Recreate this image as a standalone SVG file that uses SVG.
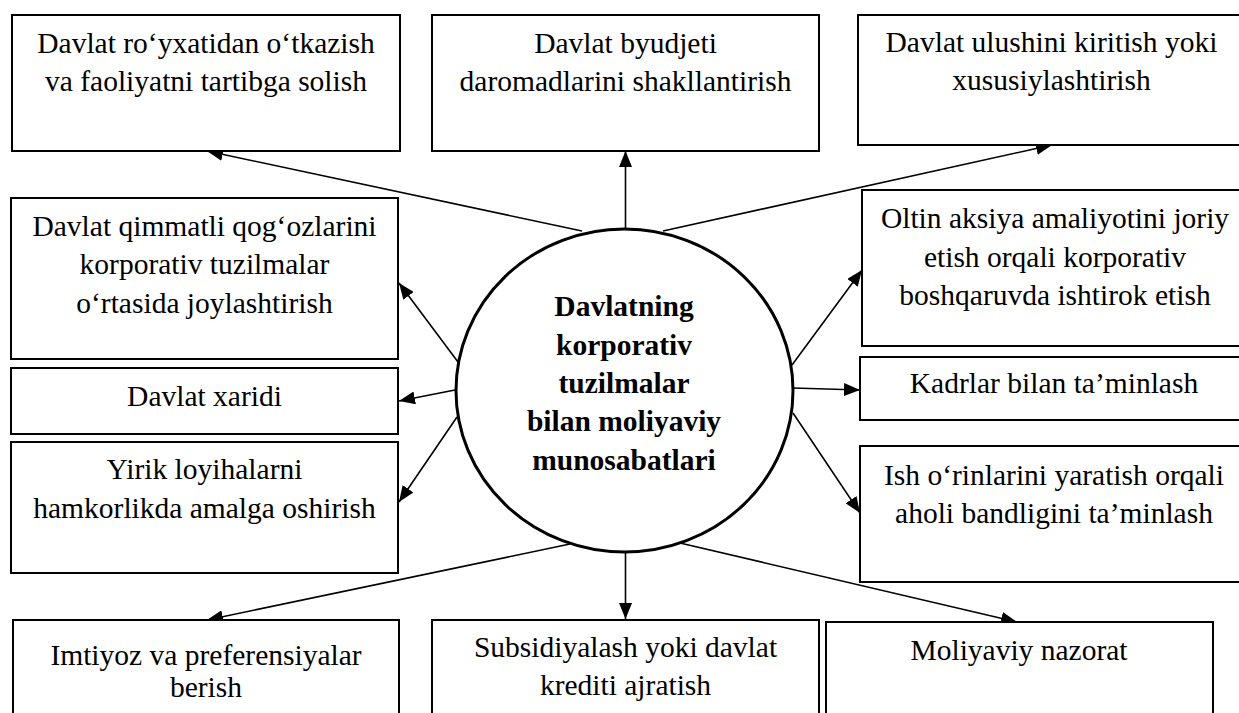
<svg xmlns="http://www.w3.org/2000/svg" width="1239" height="713" viewBox="0 0 1239 713">
  <style>
    .box { fill: #ffffff; stroke: #000000; stroke-width: 2; }
    .hub { fill: #ffffff; stroke: #000000; stroke-width: 3; }
    .lbl { font-family: "Liberation Serif", "Times New Roman", serif; font-size: 29.5px; fill: #000000; text-anchor: middle; }
    .hubtxt { font-weight: bold; }
    .link { stroke: #000000; stroke-width: 1.6; fill: none; marker-end: url(#arrow); }
  </style>
  <defs>
    <marker id="arrow" markerUnits="userSpaceOnUse" markerWidth="17" markerHeight="13" refX="16" refY="6.5" orient="auto">
      <path d="M0,0 L16,6.5 L0,13 Z" fill="#000000"/>
    </marker>
  </defs>
  <rect width="1239" height="713" fill="#ffffff"/>

  <!-- connectors radiating from the central ellipse -->
  <g id="connectors">
    <line class="link" x1="582" y1="231" x2="207" y2="151"/>
    <line class="link" x1="625.5" y1="229" x2="625.5" y2="151"/>
    <line class="link" x1="663" y1="231" x2="1052" y2="145"/>
    <line class="link" x1="458" y1="362" x2="399" y2="283"/>
    <line class="link" x1="455" y1="390" x2="399" y2="401"/>
    <line class="link" x1="457" y1="417" x2="399" y2="502"/>
    <line class="link" x1="792" y1="365" x2="862" y2="270"/>
    <line class="link" x1="793" y1="388" x2="860" y2="390"/>
    <line class="link" x1="793" y1="413" x2="860" y2="513"/>
    <line class="link" x1="570" y1="544" x2="207" y2="620"/>
    <line class="link" x1="625.5" y1="552" x2="625.5" y2="619"/>
    <line class="link" x1="680" y1="543" x2="1017" y2="622"/>
  </g>

  <g id="hub">
    <ellipse class="hub" cx="624.5" cy="390.5" rx="168.5" ry="161.5"/>
    <text class="lbl hubtxt" x="624" y="316">Davlatning</text>
    <text class="lbl hubtxt" x="624" y="354.5">korporativ</text>
    <text class="lbl hubtxt" x="624" y="393">tuzilmalar</text>
    <text class="lbl hubtxt" x="624" y="431">bilan moliyaviy</text>
    <text class="lbl hubtxt" x="624" y="469.5">munosabatlari</text>
  </g>

  <g id="registration">
    <rect class="box" x="12" y="15" width="388" height="136"/>
    <text class="lbl" x="206" y="53">Davlat ro‘yxatidan o‘tkazish</text>
    <text class="lbl" x="206" y="91">va faoliyatni tartibga solish</text>
  </g>

  <g id="budget">
    <rect class="box" x="432" y="15" width="387" height="136"/>
    <text class="lbl" x="625.5" y="53">Davlat byudjeti</text>
    <text class="lbl" x="625.5" y="91">daromadlarini shakllantirish</text>
  </g>

  <g id="state-share">
    <rect class="box" x="858" y="15" width="400" height="130"/>
    <text class="lbl" x="1051.5" y="52">Davlat ulushini kiritish yoki</text>
    <text class="lbl" x="1051.5" y="90">xususiylashtirish</text>
  </g>

  <g id="securities">
    <rect class="box" x="11" y="198" width="387" height="161"/>
    <text class="lbl" x="204.5" y="235.5">Davlat qimmatli qog‘ozlarini</text>
    <text class="lbl" x="204.5" y="274">korporativ tuzilmalar</text>
    <text class="lbl" x="204.5" y="312.5">o‘rtasida joylashtirish</text>
  </g>

  <g id="procurement">
    <rect class="box" x="11" y="368" width="387" height="66"/>
    <text class="lbl" x="204.5" y="406">Davlat xaridi</text>
  </g>

  <g id="joint-projects">
    <rect class="box" x="11" y="442" width="387" height="131"/>
    <text class="lbl" x="204.5" y="479">Yirik loyihalarni</text>
    <text class="lbl" x="204.5" y="517.5">hamkorlikda amalga oshirish</text>
  </g>

  <g id="golden-share">
    <rect class="box" x="862" y="190" width="400" height="156"/>
    <text class="lbl" x="1055" y="228">Oltin aksiya amaliyotini joriy</text>
    <text class="lbl" x="1055" y="266.5">etish orqali korporativ</text>
    <text class="lbl" x="1055" y="305">boshqaruvda ishtirok etish</text>
  </g>

  <g id="staffing">
    <rect class="box" x="860" y="357" width="400" height="63"/>
    <text class="lbl" x="1054" y="393">Kadrlar bilan ta’minlash</text>
  </g>

  <g id="employment">
    <rect class="box" x="860" y="446" width="400" height="136"/>
    <text class="lbl" x="1054" y="484.5">Ish o‘rinlarini yaratish orqali</text>
    <text class="lbl" x="1054" y="523">aholi bandligini ta’minlash</text>
  </g>

  <g id="benefits">
    <rect class="box" x="13" y="620" width="386" height="120"/>
    <text class="lbl" x="206" y="665">Imtiyoz va preferensiyalar</text>
    <text class="lbl" x="206" y="696.5">berish</text>
  </g>

  <g id="subsidies">
    <rect class="box" x="432" y="620" width="387" height="120"/>
    <text class="lbl" x="625.5" y="657">Subsidiyalash yoki davlat</text>
    <text class="lbl" x="625.5" y="695">krediti ajratish</text>
  </g>

  <g id="control">
    <rect class="box" x="826" y="622" width="387" height="120"/>
    <text class="lbl" x="1019" y="659.5">Moliyaviy nazorat</text>
  </g>
</svg>
